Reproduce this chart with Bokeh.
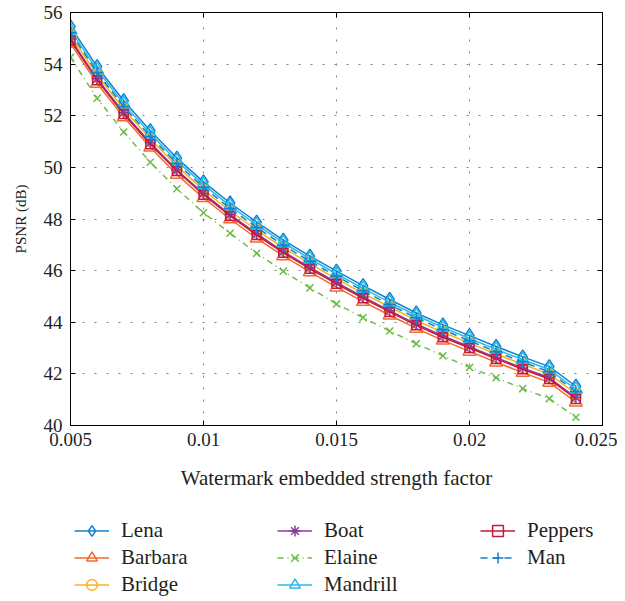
from bokeh.plotting import figure
from bokeh.models import (Legend, LegendItem, LinearAxis, FixedTicker,
                          CustomJSTickFormatter, Range1d)
from bokeh.layouts import column
from bokeh.embed import file_html
from bokeh.resources import INLINE

strength = [0.005, 0.006, 0.007, 0.008, 0.009, 0.010, 0.011, 0.012, 0.013, 0.014,
            0.015, 0.016, 0.017, 0.018, 0.019, 0.020, 0.021, 0.022, 0.023, 0.024]

lena     = [55.45, 53.90, 52.58, 51.42, 50.36, 49.44, 48.62, 47.88, 47.18, 46.56,
            45.98, 45.42, 44.88, 44.36, 43.90, 43.48, 43.06, 42.66, 42.28, 41.52]
barbara  = [54.80, 53.25, 51.95, 50.78, 49.72, 48.82, 48.00, 47.25, 46.57, 45.95,
            45.36, 44.80, 44.27, 43.76, 43.30, 42.87, 42.45, 42.05, 41.67, 40.90]
bridge   = [55.12, 53.58, 52.27, 51.10, 50.05, 49.13, 48.31, 47.57, 46.88, 46.27,
            45.68, 45.12, 44.59, 44.07, 43.61, 43.19, 42.77, 42.37, 41.99, 41.23]
boat     = [54.97, 53.43, 52.12, 50.95, 49.90, 48.99, 48.17, 47.43, 46.74, 46.12,
            45.54, 44.98, 44.45, 43.93, 43.47, 43.05, 42.63, 42.23, 41.85, 41.08]
elaine   = [54.26, 52.68, 51.37, 50.20, 49.17, 48.24, 47.45, 46.67, 45.98, 45.33,
            44.71, 44.18, 43.66, 43.17, 42.70, 42.25, 41.85, 41.43, 41.04, 40.32]
mandrill = [55.32, 53.78, 52.46, 51.30, 50.25, 49.33, 48.51, 47.77, 47.08, 46.46,
            45.87, 45.31, 44.77, 44.26, 43.80, 43.37, 42.95, 42.55, 42.17, 41.40]
peppers  = [54.92, 53.38, 52.07, 50.90, 49.86, 48.94, 48.12, 47.38, 46.69, 46.07,
            45.49, 44.93, 44.40, 43.88, 43.42, 43.00, 42.58, 42.18, 41.80, 41.03]
man      = [55.22, 53.68, 52.36, 51.20, 50.15, 49.23, 48.41, 47.67, 46.98, 46.36,
            45.78, 45.22, 44.68, 44.17, 43.71, 43.28, 42.86, 42.46, 42.08, 41.31]

x_ticks = [0.005, 0.01, 0.015, 0.02, 0.025]
y_ticks = [40, 42, 44, 46, 48, 50, 52, 54, 56]

FONT = "Liberation Serif"
TXT = "#231f20"

p = figure(frame_width=532, frame_height=413, output_backend="svg",
           toolbar_location=None,
           x_range=Range1d(0.005, 0.025), y_range=Range1d(40, 56),
           min_border_left=70, min_border_right=15, min_border_top=12,
           min_border_bottom=85)

p.outline_line_color = "black"
p.outline_line_width = 1

for ax in (p.xaxis[0], p.yaxis[0]):
    ax.major_tick_in = 5
    ax.major_tick_out = 0
    ax.minor_tick_line_color = None
    ax.axis_line_color = "black"
    ax.major_tick_line_color = "black"
    ax.major_label_text_font = FONT
    ax.major_label_text_font_size = "19px"
    ax.major_label_text_color = TXT
    ax.axis_label_text_font = FONT
    ax.axis_label_text_font_style = "normal"
    ax.axis_label_text_color = TXT

p.xaxis[0].ticker = FixedTicker(ticks=x_ticks)
p.xaxis[0].formatter = CustomJSTickFormatter(
    code="return tick.toFixed(3).replace(/0+$/, '');")
p.xaxis[0].axis_label = "Watermark embedded strength factor"
p.xaxis[0].axis_label_text_font_size = "21px"
p.xaxis[0].major_label_standoff = 7
p.xaxis[0].axis_label_standoff = 17

p.yaxis[0].ticker = FixedTicker(ticks=y_ticks)
p.yaxis[0].axis_label = "PSNR (dB)"
p.yaxis[0].axis_label_text_font_size = "15px"
p.yaxis[0].major_label_standoff = 8
p.yaxis[0].axis_label_standoff = 12

right = LinearAxis(ticker=FixedTicker(ticks=y_ticks), major_label_text_font_size="0px",
                   major_tick_in=5, major_tick_out=0, minor_tick_line_color=None,
                   major_label_standoff=0)
top = LinearAxis(ticker=FixedTicker(ticks=x_ticks), major_label_text_font_size="0px",
                 major_tick_in=5, major_tick_out=0, minor_tick_line_color=None,
                 major_label_standoff=0)
p.add_layout(right, "right")
p.add_layout(top, "above")

for g in (p.xgrid[0], p.ygrid[0]):
    g.grid_line_color = "#808080"
    g.grid_line_dash = "2 10"
    g.grid_line_width = 1
p.xgrid[0].ticker = FixedTicker(ticks=x_ticks)
p.ygrid[0].ticker = FixedTicker(ticks=y_ticks)

series = [
    ("Lena", lena, "#1380cf", "diamond", 14, "solid"),
    ("Barbara", barbara, "#f26a2c", "triangle", 13, "solid"),
    ("Bridge", bridge, "#f6b21f", "circle", 11, "solid"),
    ("Boat", boat, "#893c97", "asterisk", 11, "solid"),
    ("Elaine", elaine, "#6cbd45", "x", 10, "6 4 1 4"),
    ("Mandrill", mandrill, "#22bde8", "triangle", 13, "solid"),
    ("Peppers", peppers, "#c8163c", "square", 9, "solid"),
    ("Man", man, "#1380cf", "cross", 12, "7 5"),
]

# legend panel: a separate strip under the chart
lf = figure(width=617, height=88, output_backend="svg", toolbar_location=None,
            x_axis_location=None, y_axis_location=None, min_border=0,
            x_range=Range1d(0, 1), y_range=Range1d(0, 1))
lf.outline_line_color = None
lf.xgrid.visible = False
lf.ygrid.visible = False

items = {}
for name, ys, col, mk, sz, dash in series:
    p.line(strength, ys, line_color=col, line_width=1.5, line_dash=dash)
    p.scatter(strength, ys, marker=mk, size=sz, line_color=col,
              line_width=1.5, fill_color=None)
    # same series in the legend strip (outside its visible range)
    l1 = lf.line(strength, ys, line_color=col, line_width=1.5, line_dash=dash)
    l2 = lf.scatter(strength, ys, marker=mk, size=sz, line_color=col,
                    line_width=1.5, fill_color=None)
    items[name] = LegendItem(label=name, renderers=[l1, l2])

# three columns read top-to-bottom: laid out row by row
order = ["Lena", "Boat", "Peppers", "Barbara", "Elaine", "Man", "Bridge", "Mandrill"]
legend = Legend(items=[items[n] for n in order], orientation="horizontal", ncols=3,
                label_text_font=FONT, label_text_font_size="21px",
                label_text_color=TXT, glyph_width=35, glyph_height=27,
                label_height=27, label_standoff=12, label_width=156,
                spacing=0, padding=0, margin=0, border_line_color=None,
                background_fill_alpha=0, location=(4, 0))
lf.add_layout(legend, "center")

open("out.html", "w").write(file_html(column(p, lf, spacing=0), INLINE))
